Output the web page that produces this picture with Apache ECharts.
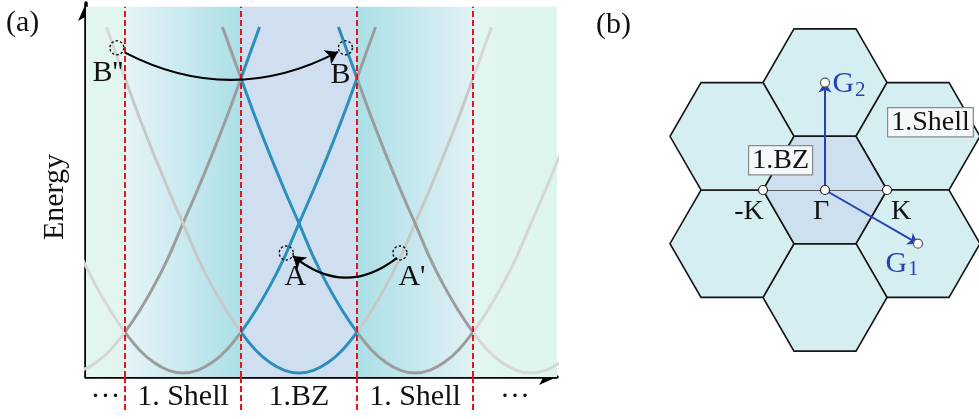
<!DOCTYPE html>
<html><head><meta charset="utf-8">
<script src="https://cdn.jsdelivr.net/npm/echarts@6/dist/echarts.min.js"></script>
<style>html,body{margin:0;padding:0;background:#fff}#c{width:979px;height:419px}</style>
</head><body><div id="c"></div>
<script>
const FONT = '"Liberation Serif","Times New Roman",serif';

// ---------- panel (a) data ----------
// distance from band centre (in BZ widths) -> energy (arb. units)
const bandD = [0, 0.125, 0.25, 0.375, 0.5, 0.625, 0.75, 0.875, 1.0, 1.125, 1.25, 1.375, 1.5, 1.66];
const bandE = [1.1, 1.8, 3.9, 7.3, 12.1, 17.9, 24.6, 32.4, 41.5, 50.5, 60.0, 70.0, 80.7, 94.5];
// band centres (reciprocal lattice vectors, in BZ widths)
const bandCenters = [-2, -1, 0, 1, 2];
// zone boundaries
const regionEdges = [-1.5, -0.5, 0.5, 1.5];
const xMin = -1.836, xMax = 2.224, eMax = 101, regionTop = 100;
// bottom labels
const bottomLabelPos = [-1.668, -1, 0, 1, 1.862];
const bottomLabels = ['···', '1. Shell', '1.BZ', '1. Shell', '···'];
// marked states
const statePts = [
  { name: "B''", k: -1.57, E: 88.9 },
  { name: 'B', k: 0.40, E: 88.9 },
  { name: 'A', k: -0.11, E: 33.5 },
  { name: "A'", k: 0.87, E: 33.5 }
];
const arrowFrom = [[-1.50, 87.6], [0.845, 32.2]];
const arrowTo = [[0.336, 87.8], [-0.052, 32.7]];

// ---------- panel (b) data ----------
const hexCenters = [[0, 0], [0, 1.732], [1.5, 0.866], [1.5, -0.866], [0, -1.732], [-1.5, -0.866], [-1.5, 0.866]];
const hexIsBZ = [1, 0, 0, 0, 0, 0, 0];
const kPts = [['Γ', 0, 0], ['K', 1, 0], ['-K', -1, 0]];
const gPts = [['2', 0, 1.732], ['1', 1.5, -0.866]];

// ---------- styles ----------
const BLUE = '#2a8fba', SHELL_D = '#9c9c9c', SHELL_L = '#c8c8c8', OUTER = '#d6d6d6';
const RED = '#e8141b';
function lg(c1, c2) { return { type: 'linear', x: 0, y: 0, x2: 1, y2: 0, colorStops: [{ offset: 0, color: c1 }, { offset: 1, color: c2 }] }; }
const regionFills = [lg('#e2f6ef', '#e2f6ef'), lg('#e6f4f8', '#abdfe6'), lg('#cfdff0', '#cfdff0'), lg('#abdfe6', '#e0f1f5'), lg('#e3f5f1', '#ddf5eb')];
const stateLabelOff = { "B''": [-9, 25], 'B': [-5, 27], 'A': [9, 24], "A'": [12, 24] };

const bounds = [xMin].concat(regionEdges, [xMax]);
const series = [];
// background regions
series.push({
  type: 'line', data: [], silent: true, z: 1,
  markArea: {
    silent: true,
    data: regionFills.map((f, i) => [
      { xAxis: bounds[i], yAxis: 0, itemStyle: { color: f, borderWidth: 0 } },
      { xAxis: bounds[i + 1], yAxis: regionTop }
    ])
  }
});
// band curves
const curve0 = series.length;
bandCenters.forEach(c => {
  const pts = [];
  for (let i = bandD.length - 1; i > 0; i--) pts.push([c - bandD[i], bandE[i]]);
  for (let i = 0; i < bandD.length; i++) pts.push([c + bandD[i], bandE[i]]);
  series.push({ type: 'line', data: pts, smooth: 0.3, showSymbol: false, symbol: 'none', silent: true, clip: true, z: 2, lineStyle: { width: 3 } });
});
// red dashed boundaries
series.push({
  type: 'line', data: [], silent: true, z: 3,
  markLine: {
    silent: true, symbol: 'none', label: { show: false },
    lineStyle: { color: RED, width: 2, type: [6, 3] },
    data: regionEdges.map(x => [{ coord: [x, 0] }, { coord: [x, regionTop] }])
  }
});
// state markers
series.push({
  type: 'scatter', z: 4, silent: true,
  data: statePts.map(p => ({ value: [p.k, p.E], name: p.name })),
  symbol: 'circle', symbolSize: 14,
  itemStyle: { color: 'rgba(0,0,0,0)', borderColor: '#111', borderWidth: 1.4, borderType: [2.5, 2], opacity: 1 },
  label: {
    show: true, formatter: p => p.name, fontFamily: FONT, fontSize: 30, color: '#111',
    position: 'inside', textBorderWidth: 0
  },
  labelLayout: (p) => {
    const off = stateLabelOff[statePts[p.dataIndex].name];
    return { dx: off[0], dy: off[1] };
  }
});
// transfer arrows
series.push({
  type: 'lines', coordinateSystem: 'cartesian2d', z: 5, silent: true,
  symbol: ['none', 'arrow'], symbolSize: 12,
  lineStyle: { color: '#000', width: 2.2, opacity: 1 },
  data: [
    { coords: [arrowFrom[0], arrowTo[0]], lineStyle: { curveness: -0.26 } },
    { coords: [arrowFrom[1], arrowTo[1]], lineStyle: { curveness: 0.40 } }
  ]
});

// ---------- panel (b) ----------
series.push({
  type: 'custom', xAxisIndex: 1, yAxisIndex: 1, z: 2, silent: true, clip: false,
  data: hexCenters.map((c, i) => [c[0], c[1], hexIsBZ[i]]).sort((a, b) => a[2] - b[2]),
  renderItem: (params, api) => {
    const cx = api.value(0), cy = api.value(1);
    const pts = [];
    for (let i = 0; i < 6; i++) { const a = Math.PI / 3 * i; pts.push(api.coord([cx + Math.cos(a), cy + Math.sin(a)])); }
    return { type: 'polygon', shape: { points: pts }, style: { fill: api.value(2) ? '#cedff0' : '#d5eef2', stroke: '#151515', lineWidth: 1.6 } };
  }
});
series.push({
  type: 'lines', coordinateSystem: 'cartesian2d', xAxisIndex: 1, yAxisIndex: 1, z: 3, silent: true,
  symbol: 'none', lineStyle: { color: '#555', width: 1.2, opacity: 1 },
  data: [{ coords: [[kPts[2][1], kPts[2][2]], [kPts[1][1], kPts[1][2]]] }]
});
series.push({
  type: 'lines', coordinateSystem: 'cartesian2d', xAxisIndex: 1, yAxisIndex: 1, z: 4, silent: true,
  symbol: ['none', 'arrow'], symbolSize: 10, lineStyle: { color: '#2743b2', width: 2, opacity: 1 },
  data: gPts.map(g => ({ coords: [[0, 0], [g[1], g[2]]] }))
});
series.push({
  type: 'scatter', xAxisIndex: 1, yAxisIndex: 1, z: 5, silent: true,
  data: kPts.map(p => ({ value: [p[1], p[2]], name: p[0] })),
  symbolSize: 9, itemStyle: { color: '#fff', borderColor: '#222', borderWidth: 1.2, opacity: 1 },
  label: { show: true, position: 'inside', formatter: p => p.name, fontFamily: FONT, fontSize: 28, color: '#111', textBorderWidth: 0 },
  labelLayout: (p) => { const o = [[-4, 22], [14, 22], [-14, 22]][p.dataIndex]; return { dx: o[0], dy: o[1] }; }
});
series.push({
  type: 'scatter', xAxisIndex: 1, yAxisIndex: 1, z: 6, silent: true,
  data: gPts.map(p => ({ value: [p[1], p[2]], name: p[0] })),
  symbolSize: 9, itemStyle: { color: '#fff', borderColor: '#555', borderWidth: 1.2, opacity: 1 },
  label: {
    show: true, position: 'inside', formatter: p => '{g|G}{s|' + p.name + '}', textBorderWidth: 0,
    rich: { g: { fontFamily: FONT, fontSize: 30, color: '#2743b2' }, s: { fontFamily: FONT, fontSize: 21, color: '#2743b2', padding: [12, 0, 0, 1] } }
  },
  labelLayout: (p) => { const o = [[24, 2], [-16, 20]][p.dataIndex]; return { dx: o[0], dy: o[1] }; }
});

const visualMap = bandCenters.map((c, i) => ({
  type: 'piecewise', show: false, dimension: 0, seriesIndex: curve0 + i,
  pieces: [
    { lt: regionEdges[0], color: OUTER },
    { gte: regionEdges[0], lt: regionEdges[1], color: c === 0 ? SHELL_L : SHELL_D },
    { gte: regionEdges[1], lte: regionEdges[2], color: BLUE },
    { gt: regionEdges[2], lte: regionEdges[3], color: c === 0 ? SHELL_L : SHELL_D },
    { gt: regionEdges[3], color: OUTER }
  ]
}));

const chart = echarts.init(document.getElementById('c'), null, { renderer: 'canvas' });
chart.setOption({
  animation: false,
  backgroundColor: '#fff',
  grid: [
    { left: 86, right: 422, top: 3, bottom: 42 },
    { left: 660, right: 0, top: 20, bottom: 39 }
  ],
  xAxis: [
    {
      type: 'value', min: xMin, max: xMax, gridIndex: 0,
      splitLine: { show: false },
      axisLine: { show: true, onZero: false, symbol: ['none', 'arrow'], symbolSize: [12, 18], lineStyle: { color: '#000', width: 3.5 } },
      axisTick: { show: true, customValues: regionEdges, length: 34, inside: false, lineStyle: { color: RED, width: 2, type: [6, 3] } },
      axisLabel: {
        show: true, customValues: bottomLabelPos, margin: 5,
        formatter: v => bottomLabels[bottomLabelPos.indexOf(v)] || '',
        fontFamily: FONT, fontSize: 30, color: '#111'
      }
    },
    { type: 'value', gridIndex: 1, min: -2.6613, max: 2.4839, show: false }
  ],
  yAxis: [
    {
      type: 'value', min: 0, max: eMax, gridIndex: 0,
      splitLine: { show: false }, axisTick: { show: false }, axisLabel: { show: false },
      axisLine: { show: true, onZero: false, symbol: ['none', 'arrow'], symbolSize: [12, 18], lineStyle: { color: '#000', width: 3.5 } },
      name: 'Energy', nameLocation: 'middle', nameRotate: 90, nameGap: 16,
      nameTextStyle: { fontFamily: FONT, fontSize: 30, color: '#111', padding: [0, 14, 0, 0] }
    },
    { type: 'value', gridIndex: 1, min: -3.0645, max: 2.7419, show: false }
  ],
  visualMap: visualMap,
  series: series,
  graphic: [
    { type: 'text', left: 6, top: 8, style: { text: '(a)', fontFamily: FONT, fontSize: 30, fill: '#111' } },
    { type: 'text', left: 596, top: 10, style: { text: '(b)', fontFamily: FONT, fontSize: 30, fill: '#111' } },
    { type: 'text', left: 748, top: 145, z: 20, style: { text: '1.BZ', fontFamily: FONT, fontSize: 28, fill: '#111', backgroundColor: '#f4f8fa', borderColor: '#8a8a8a', borderWidth: 1.2, padding: [0, 3, 0, 3] } },
    { type: 'text', left: 887, top: 107, z: 20, style: { text: '1.Shell', fontFamily: FONT, fontSize: 28, fill: '#111', backgroundColor: '#f4f8fa', borderColor: '#8a8a8a', borderWidth: 1.2, padding: [0, 3, 0, 3] } }
  ]
});
</script></body></html>
